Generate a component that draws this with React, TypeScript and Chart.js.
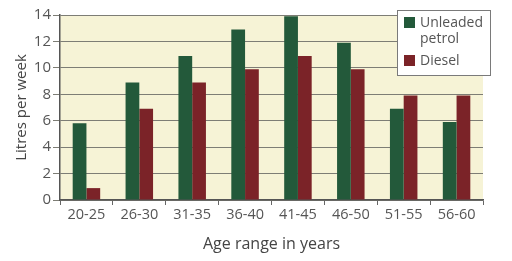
import React, { useEffect, useRef } from "react";
import { Chart, registerables } from "chart.js";

Chart.register(...registerables);

const categories = ["20-25", "26-30", "31-35", "36-40", "41-45", "46-50", "51-55", "56-60"];
const unleaded = [5.8, 8.9, 10.9, 12.9, 13.9, 11.9, 6.9, 5.9];
const diesel = [0.9, 6.9, 8.9, 9.9, 10.9, 9.9, 7.9, 7.9];
const seriesLabels = ["Unleaded petrol", "Diesel"];
const yTicks = [0, 2, 4, 6, 8, 10, 12, 14];

const GREEN = "#23593a";
const RED = "#7b2328";
const FONT = "'Open Sans', 'DejaVu Sans', sans-serif";

const bgPlugin = {
  id: "plotBg",
  beforeDraw(chart: any) {
    const { ctx, chartArea } = chart;
    ctx.save();
    ctx.fillStyle = "#f6f3d6";
    ctx.fillRect(chartArea.left, chartArea.top, chartArea.right - chartArea.left, chartArea.bottom - chartArea.top);
    ctx.restore();
  },
};

const legendPlugin = {
  id: "boxLegend",
  afterDraw(chart: any) {
    const { ctx } = chart;
    const x = 397, y = 10, w = 93, h = 65;
    ctx.save();
    ctx.fillStyle = "#ffffff";
    ctx.fillRect(x, y, w, h);
    ctx.strokeStyle = "#7a7a7a";
    ctx.lineWidth = 1;
    ctx.strokeRect(x + 0.5, y + 0.5, w, h);
    ctx.fillStyle = GREEN;
    ctx.fillRect(x + 7, y + 7, 11, 11);
    ctx.fillStyle = RED;
    ctx.fillRect(x + 7, y + 45, 11, 11);
    ctx.fillStyle = "#555555";
    ctx.font = `14px ${FONT}`;
    ctx.textBaseline = "middle";
    ctx.textAlign = "left";
    const parts = seriesLabels[0].split(" ");
    ctx.fillText(parts[0], x + 23, y + 13);
    ctx.fillText(parts[1], x + 23, y + 29);
    ctx.fillText(seriesLabels[1], x + 23, y + 51);
    ctx.restore();
  },
};

export default function App() {
  const ref = useRef<HTMLCanvasElement>(null);
  useEffect(() => {
    if (!ref.current) return;
    const chart = new Chart(ref.current, {
      type: "bar",
      data: {
        labels: categories,
        datasets: [
          { label: seriesLabels[0], data: unleaded, backgroundColor: GREEN, categoryPercentage: 0.52, barPercentage: 1 },
          { label: seriesLabels[1], data: diesel, backgroundColor: RED, categoryPercentage: 0.52, barPercentage: 1 },
        ],
      },
      options: {
        animation: false,
        responsive: false,
        maintainAspectRatio: false,
        layout: { padding: { top: 15, right: 29, left: 0, bottom: 0 } },
        plugins: { legend: { display: false }, tooltip: { enabled: false } },
        scales: {
          x: {
            grid: { drawOnChartArea: false, drawTicks: true, tickLength: 5, color: "#666666", offset: true },
            border: { display: true, color: "#555555", width: 1.5 },
            ticks: { color: "#555555", font: { family: FONT, size: 14.5 }, padding: 1, maxRotation: 0 },
            title: { display: true, text: "Age range in years", color: "#444444", font: { family: FONT, size: 16 }, padding: { top: 4, bottom: 7 } },
            afterFit(scale: any) { scale.height = 61; },
          },
          y: {
            min: 0,
            max: 14,
            afterBuildTicks(scale: any) { scale.ticks = yTicks.map((v) => ({ value: v })); },
            grid: { color: "#7d7d75", lineWidth: 1, tickLength: 7, drawTicks: true },
            border: { display: true, color: "#555555", width: 1.5 },
            ticks: { color: "#555555", font: { family: FONT, size: 15 }, padding: 2 },
            title: { display: true, text: "Litres per week", color: "#444444", font: { family: FONT, size: 15 }, padding: { top: 13, bottom: 0 } },
            afterFit(scale: any) { scale.width = 60; },
          },
        },
      },
      plugins: [bgPlugin, legendPlugin],
    });
    return () => chart.destroy();
  }, []);
  return (
    <div style={{ position: "fixed", left: 0, top: 0, width: 512, height: 261, background: "#ffffff" }}>
      <canvas ref={ref} width={512} height={261} style={{ display: "block" }} />
    </div>
  );
}
